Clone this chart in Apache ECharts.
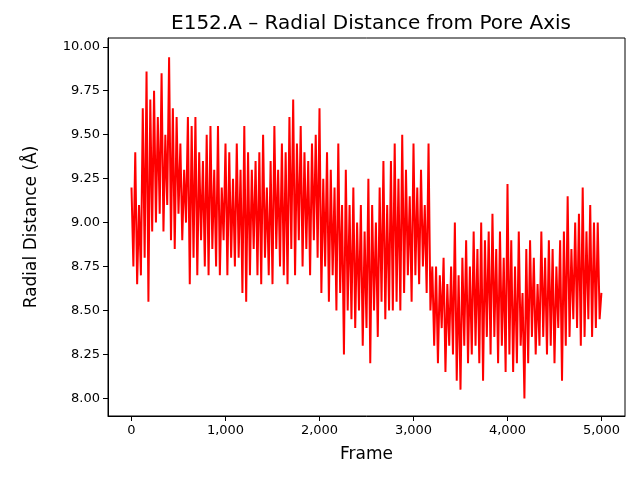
<!DOCTYPE html>
<html lang="en">
<head>
    <meta charset="UTF-8">
    <title>E152.A</title>
    <script src="https://cdn.jsdelivr.net/npm/echarts@6/dist/echarts.min.js"></script>
</head>
<body style="margin:0">
<div style="width:640px;height:480px" id="main"></div>
<script>
    // values, one every 20 frames
    var frameStep = 20;
    var radialValues = [
        9.2,8.75,9.4,8.65,9.1,8.7,9.65,8.8,9.86,8.55,
        9.7,8.95,9.75,9.0,9.6,9.05,9.85,8.95,9.5,9.1,
        9.94,8.9,9.65,8.85,9.6,9.05,9.45,8.9,9.3,9.0,
        9.6,8.65,9.55,8.8,9.6,8.7,9.4,8.9,9.35,8.75,
        9.5,8.7,9.55,8.85,9.3,8.75,9.55,8.7,9.2,8.9,
        9.45,8.7,9.4,8.8,9.25,8.75,9.45,8.8,9.3,8.6,
        9.55,8.55,9.4,8.7,9.3,8.85,9.35,8.7,9.4,8.65,
        9.5,8.8,9.2,8.7,9.35,8.65,9.55,8.85,9.3,8.75,
        9.45,8.7,9.4,8.65,9.6,8.85,9.7,8.7,9.45,8.9,
        9.55,8.75,9.4,8.85,9.35,8.7,9.45,8.9,9.5,8.8,
        9.65,8.6,9.25,8.75,9.4,8.55,9.3,8.7,9.2,8.5,
        9.45,8.6,9.1,8.25,9.3,8.5,9.1,8.45,9.2,8.4,
        9.0,8.5,9.1,8.3,8.95,8.4,9.25,8.2,9.1,8.5,
        9.0,8.35,9.2,8.55,9.35,8.45,9.1,8.5,9.35,8.5,
        9.45,8.55,9.25,8.5,9.5,8.6,9.3,8.7,9.15,8.55,
        9.45,8.7,9.2,8.65,9.3,8.75,9.1,8.6,9.45,8.5,
        8.75,8.3,8.75,8.2,8.7,8.4,8.8,8.15,8.65,8.3,
        8.75,8.25,9.0,8.1,8.7,8.05,8.8,8.3,8.9,8.2,
        8.75,8.25,8.95,8.3,8.85,8.2,9.0,8.1,8.9,8.35,
        8.95,8.25,9.05,8.35,8.85,8.2,8.95,8.3,8.8,8.15,
        9.22,8.25,8.9,8.15,8.75,8.2,8.95,8.3,8.6,8.0,
        8.85,8.2,8.9,8.35,8.8,8.25,8.65,8.3,8.95,8.35,
        8.8,8.25,8.9,8.3,8.85,8.2,8.75,8.4,8.9,8.1,
        8.95,8.3,9.15,8.35,8.85,8.45,9.0,8.4,9.05,8.3,
        9.2,8.35,8.95,8.45,9.1,8.35,9.0,8.4,9.0,8.45
    ];
    var lastFrame = 4999, lastValue = 8.6;
    var xTicks = [0, 1000, 2000, 3000, 4000, 5000];
    var yTicks = [8.0, 8.25, 8.5, 8.75, 9.0, 9.25, 9.5, 9.75, 10.0];

    var points = radialValues.map(function (v, i) { return [i * frameStep, v]; });
    points.push([lastFrame, lastValue]);

    var font = 'DejaVu Sans';
    var myChart = echarts.init(document.getElementById('main'));
    var option = {
        animation: false,
        title: {
            text: 'E152.A \u2013 Radial Distance from Pore Axis',
            left: 366, top: 9, textAlign: 'center',
            textStyle: {fontFamily: font, fontSize: 20, fontWeight: 'normal', color: '#000'}
        },
        grid: {left: 108, right: 15, top: 38, bottom: 64},
        xAxis: {
            type: 'value', min: -250, max: 5250,
            name: 'Frame', nameLocation: 'middle', nameGap: 30,
            nameTextStyle: {fontFamily: font, fontSize: 17, color: '#000'},
            axisLine: {onZero: false, lineStyle: {color: '#000'}},
            axisTick: {show: true, length: 5, customValues: xTicks, lineStyle: {color: '#000'}},
            axisLabel: {fontFamily: font, fontSize: 13, color: '#000', customValues: xTicks},
            splitLine: {show: false}
        },
        yAxis: {
            type: 'value', min: 7.9, max: 10.05,
            name: 'Radial Distance (\u00c5)', nameLocation: 'middle', nameGap: 68,
            nameTextStyle: {fontFamily: font, fontSize: 17, color: '#000'},
            axisLine: {show: true, onZero: false, lineStyle: {color: '#000'}},
            axisTick: {show: true, length: 5, customValues: yTicks, lineStyle: {color: '#000'}},
            axisLabel: {fontFamily: font, fontSize: 13, color: '#000', customValues: yTicks,
                formatter: function (v) { return v.toFixed(2); }},
            splitLine: {show: false}
        },
        series: [{
            type: 'line', data: points, showSymbol: false,
            lineStyle: {color: '#ff0000', width: 2}
        }],
        graphic: [{
            type: 'rect', shape: {x: 108, y: 38, width: 517, height: 378},
            style: {fill: 'none', stroke: '#000', lineWidth: 1}, silent: true
        }]
    };
    myChart.setOption(option);
</script>
</body>
</html>
